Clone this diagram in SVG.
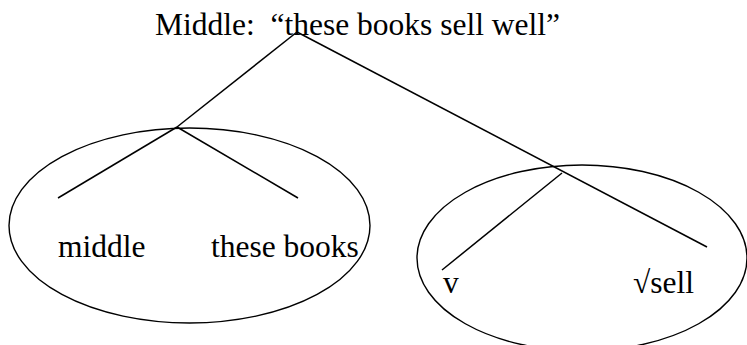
<svg xmlns="http://www.w3.org/2000/svg" width="747" height="345" viewBox="0 0 747 345">
<style>
  text { font-family: "Liberation Serif", "Times New Roman", serif; font-size: 31.5px; fill: #000; white-space: pre; }
  .edge { stroke: #000; stroke-width: 1.5; fill: none; }
  .oval { stroke: #000; stroke-width: 1.4; fill: none; }
</style>
<rect width="747" height="345" fill="#fff"/>
<g id="title">
  <text x="155" y="35" xml:space="preserve">Middle:  “these books sell well”</text>
</g>
<g id="connectors">
  <line class="edge" x1="297" y1="32" x2="177" y2="127"/>
  <line class="edge" x1="177" y1="127" x2="58" y2="198"/>
  <line class="edge" x1="177" y1="127" x2="298" y2="198"/>
  <line class="edge" x1="297" y1="32" x2="707" y2="247"/>
  <line class="edge" x1="562" y1="173" x2="442" y2="270"/>
</g>
<g id="left-group">
  <ellipse class="oval" cx="189.5" cy="225.5" rx="180.5" ry="97.5"/>
</g>
<g id="node-middle">
  <text x="58" y="257">middle</text>
</g>
<g id="node-these-books">
  <text x="211" y="257">these books</text>
</g>
<g id="right-group">
  <ellipse class="oval" cx="582" cy="258" rx="165" ry="93"/>
</g>
<g id="node-v">
  <text x="443" y="293">v</text>
</g>
<g id="node-sell">
  <text x="633" y="293">√sell</text>
</g>
</svg>
